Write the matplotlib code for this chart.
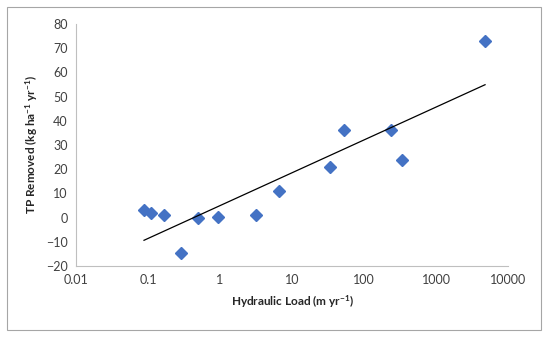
import numpy as np
import matplotlib
matplotlib.use("Agg")
import matplotlib.pyplot as plt
from matplotlib.patches import Rectangle

hydraulic_load = [0.088, 0.11, 0.167, 0.285, 0.49, 0.93, 3.2, 6.6, 34, 53, 236, 334, 4800]
tp_removed = [3.0, 2.1, 1.1, -14.8, 0.0, 0.1, 1.0, 10.8, 21.0, 36.0, 36.0, 23.7, 73.0]
x_ticks = [0.01, 0.1, 1, 10, 100, 1000, 10000]
x_tick_labels = ["0.01", "0.1", "1", "10", "100", "1000", "10000"]
y_ticks = [-20, -10, 0, 10, 20, 30, 40, 50, 60, 70, 80]

plt.rcParams['font.family'] = ['Lato', 'DejaVu Sans']
plt.rcParams['mathtext.fontset'] = 'custom'
plt.rcParams['mathtext.rm'] = 'Lato'
plt.rcParams['mathtext.bf'] = 'Lato:bold'
plt.rcParams['mathtext.default'] = 'bf'

fig = plt.figure(figsize=(5.5, 3.37), dpi=100)
ax = fig.add_axes([76/550, 1-266/337, (508-76)/550, (266-24)/337])

x = np.array(hydraulic_load)
y = np.array(tp_removed)
ax.plot(x, y, linestyle='none', marker='D', markersize=6.4, color='#4472C4')

# logarithmic trendline (least squares on ln x)
a, b = np.polyfit(np.log(x), y, 1)
xt = np.array([x.min(), x.max()])
ax.plot(xt, a*np.log(xt)+b, color='black', linewidth=0.9)

ax.set_xscale('log')
ax.set_xlim(0.01, 10000)
ax.set_ylim(-20, 80)
ax.set_xticks(x_ticks)
ax.set_xticklabels(x_tick_labels)
ax.minorticks_off()
ax.set_yticks(y_ticks)
ax.tick_params(length=0, labelsize=9, colors='#404040', pad=6)
for s in ['top', 'right']:
    ax.spines[s].set_visible(False)
for s in ['left', 'bottom']:
    ax.spines[s].set_color('#BFBFBF')
    ax.spines[s].set_linewidth(0.8)

ax.set_xlabel('Hydraulic Load (m yr$^{-1}$)', fontsize=8.5, fontweight='bold', color='#262626', labelpad=5)
ax.set_ylabel('TP Removed (kg ha$^{-1}$ yr$^{-1}$)', fontsize=8.5, fontweight='bold', color='#262626', labelpad=4)

fig.patches.append(Rectangle((7/550, 1-330/337), (541-7)/550, (330-7)/337,
                             transform=fig.transFigure, fill=False,
                             edgecolor='#A6A6A6', linewidth=0.8))

fig.savefig('out.png', dpi=100)
